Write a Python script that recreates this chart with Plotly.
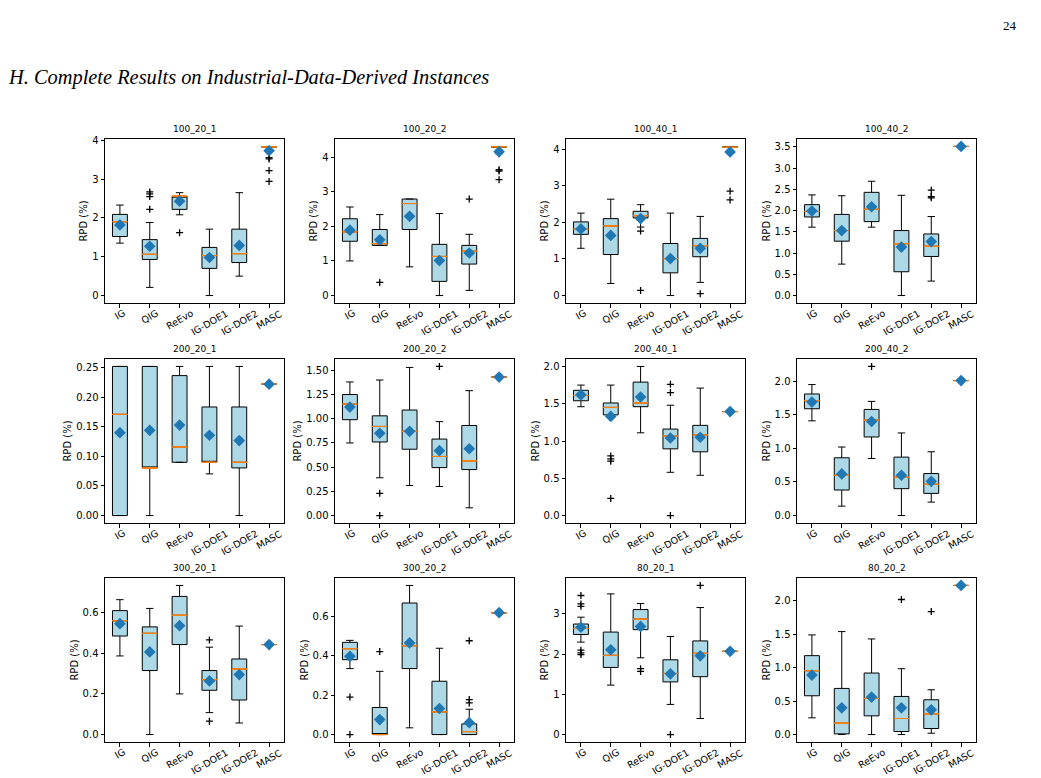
import plotly.graph_objects as go

methods = ["IG", "QIG", "ReEvo", "IG-DOE1", "IG-DOE2", "MASC"]
instances = ["100_20_1", "100_20_2", "100_40_1", "100_40_2",
             "200_20_1", "200_20_2", "200_40_1", "200_40_2",
             "300_20_1", "300_20_2", "80_20_1", "80_20_2"]

lower_whisker = [
    [1.35, 0.21, 2.08, 0.0, 0.50, 3.83],
    [1.00, 1.45, 0.83, 0.0, 0.15, 4.29],
    [1.29, 0.33, 1.87, 0.0, 0.36, 4.05],
    [1.61, 0.74, 1.61, 0.0, 0.34, 3.51],
    [0.0, 0.0, 0.090, 0.0704, 0.0, 0.2224],
    [0.75, 0.39, 0.31, 0.30, 0.08, 1.43],
    [1.46, 1.35, 1.11, 0.58, 0.54, 1.395],
    [1.41, 0.14, 0.85, 0.0, 0.20, 2.01],
    [0.387, 0.0, 0.20, 0.108, 0.057, 0.443],
    [0.334, 0.0, 0.034, 0.0, 0.0, 0.617],
    [2.30, 1.23, 1.91, 0.75, 0.40, 2.07],
    [0.25, 0.0, 0.0, 0.0, 0.02, 2.23],
]
q1 = [
    [1.52, 0.93, 2.22, 0.70, 0.85, 3.83],
    [1.57, 1.45, 1.91, 0.41, 0.91, 4.29],
    [1.67, 1.12, 2.12, 0.62, 1.06, 4.05],
    [1.85, 1.28, 1.74, 0.56, 0.92, 3.51],
    [0.0, 0.0805, 0.090, 0.090, 0.0805, 0.2224],
    [0.99, 0.76, 0.685, 0.495, 0.475, 1.43],
    [1.54, 1.35, 1.46, 0.895, 0.855, 1.395],
    [1.59, 0.38, 1.17, 0.40, 0.33, 2.01],
    [0.485, 0.315, 0.443, 0.218, 0.17, 0.443],
    [0.379, 0.0, 0.334, 0.0, 0.0, 0.617],
    [2.49, 1.67, 2.61, 1.31, 1.44, 2.07],
    [0.58, 0.01, 0.28, 0.045, 0.09, 2.23],
]
median = [
    [1.90, 1.06, 2.56, 1.03, 1.08, 3.83],
    [1.84, 1.50, 2.66, 1.13, 1.28, 4.30],
    [1.81, 1.90, 2.18, 1.01, 1.36, 4.05],
    [1.98, 1.53, 2.03, 1.22, 1.16, 3.51],
    [0.171, 0.0805, 0.116, 0.090, 0.090, 0.2224],
    [1.15, 0.92, 0.87, 0.61, 0.564, 1.43],
    [1.61, 1.45, 1.51, 1.065, 1.08, 1.395],
    [1.71, 0.60, 1.42, 0.57, 0.465, 2.01],
    [0.56, 0.498, 0.587, 0.27, 0.323, 0.443],
    [0.435, 0.0, 0.45, 0.115, 0.015, 0.617],
    [2.64, 1.97, 2.87, 1.52, 2.02, 2.07],
    [0.955, 0.17, 0.54, 0.24, 0.31, 2.23],
]
q3 = [
    [2.09, 1.44, 2.56, 1.24, 1.71, 3.83],
    [2.22, 1.91, 2.79, 1.48, 1.45, 4.30],
    [2.01, 2.10, 2.30, 1.42, 1.56, 4.06],
    [2.14, 1.91, 2.43, 1.53, 1.45, 3.51],
    [0.252, 0.252, 0.2365, 0.1835, 0.1835, 0.2224],
    [1.25, 1.03, 1.09, 0.79, 0.93, 1.43],
    [1.68, 1.51, 1.79, 1.16, 1.21, 1.395],
    [1.81, 0.86, 1.58, 0.87, 0.625, 2.01],
    [0.61, 0.53, 0.68, 0.315, 0.372, 0.443],
    [0.467, 0.137, 0.666, 0.27, 0.054, 0.617],
    [2.75, 2.55, 3.11, 1.86, 2.33, 2.07],
    [1.18, 0.69, 0.92, 0.57, 0.52, 2.23],
]
upper_whisker = [
    [2.33, 1.88, 2.65, 1.71, 2.65, 3.84],
    [2.56, 2.34, 2.79, 2.37, 1.77, 4.31],
    [2.25, 2.63, 2.48, 2.25, 2.16, 4.07],
    [2.37, 2.35, 2.69, 2.36, 1.86, 3.51],
    [0.252, 0.252, 0.252, 0.252, 0.252, 0.2224],
    [1.38, 1.40, 1.53, 0.97, 1.29, 1.43],
    [1.75, 1.75, 2.0, 1.48, 1.71, 1.395],
    [1.95, 1.02, 1.70, 1.23, 0.95, 2.01],
    [0.664, 0.621, 0.734, 0.43, 0.534, 0.443],
    [0.477, 0.32, 0.755, 0.437, 0.128, 0.617],
    [2.92, 3.50, 3.26, 2.44, 3.16, 2.07],
    [1.49, 1.54, 1.43, 0.985, 0.67, 2.23],
]
means = [
    [1.82, 1.27, 2.43, 0.98, 1.29, 3.73],
    [1.89, 1.61, 2.29, 1.01, 1.23, 4.16],
    [1.82, 1.64, 2.10, 1.01, 1.29, 3.92],
    [1.99, 1.53, 2.09, 1.14, 1.27, 3.51],
    [0.140, 0.144, 0.153, 0.1357, 0.1267, 0.222],
    [1.12, 0.85, 0.87, 0.67, 0.69, 1.43],
    [1.62, 1.33, 1.59, 1.04, 1.05, 1.395],
    [1.69, 0.62, 1.40, 0.60, 0.51, 2.01],
    [0.546, 0.407, 0.536, 0.264, 0.295, 0.443],
    [0.396, 0.076, 0.464, 0.132, 0.06, 0.617],
    [2.67, 2.11, 2.69, 1.51, 1.96, 2.07],
    [0.89, 0.40, 0.56, 0.40, 0.37, 2.23],
]
outliers = [
    [[], [2.22, 2.55, 2.62, 2.67], [1.62], [], [], [3.55, 3.52, 3.22, 2.94]],
    [[], [0.38], [], [], [2.79], [4.10, 3.64, 3.60, 3.35]],
    [[], [], [1.76, 0.14], [], [0.05], [2.85, 2.61]],
    [[], [], [], [], [2.30, 2.33, 2.48], []],
    [[], [], [], [], [], []],
    [[], [0.23, 0.0], [], [1.54], [], []],
    [[], [0.80, 0.76, 0.73, 0.23], [], [1.65, 1.76, 0.0], [], []],
    [[], [], [2.22], [], [], []],
    [[], [], [], [0.466, 0.066], [], []],
    [[0.19, 0.0], [0.42], [], [], [0.16, 0.177, 0.475], []],
    [[3.46, 3.25, 3.19, 2.10, 2.03, 1.99], [], [1.64, 1.57], [0.0], [3.71], []],
    [[], [], [], [2.02], [1.84], []],
]
tick_step = [1, 1, 1, 0.5, 0.05, 0.25, 0.5, 0.5, 0.2, 0.2, 1, 0.5]
tick_format = [".0f", ".0f", ".0f", ".1f", ".2f", ".2f", ".1f", ".1f", ".1f", ".1f", ".0f", ".1f"]

W, H = 1041, 778
col_left = [105, 335, 566, 797]
row_top = [139, 359, 578]
ax_w, ax_h = 179, 164
FONT = "DejaVu Sans"
TICK_SIZE = 10
XLAB_SIZE = 9.5

fig = go.Figure()
annotations = []
for k, name in enumerate(instances):
    n = k + 1
    xa, ya = ("x" if n == 1 else f"x{n}"), ("y" if n == 1 else f"y{n}")
    r, c = divmod(k, 4)
    L, T = col_left[c], row_top[r]
    fig.add_trace(go.Box(
        x=methods, q1=q1[k], median=median[k], q3=q3[k],
        lowerfence=lower_whisker[k], upperfence=upper_whisker[k],
        width=0.5, whiskerwidth=0.5, boxpoints=False,
        fillcolor="lightblue", line=dict(color="black", width=1),
        xaxis=xa, yaxis=ya, showlegend=False, hoverinfo="skip"))
    fig.add_trace(go.Box(
        x=methods, q1=median[k], median=median[k], q3=median[k],
        lowerfence=median[k], upperfence=median[k],
        width=0.5, boxpoints=False, fillcolor="rgba(0,0,0,0)",
        line=dict(color="#ff7f0e", width=1),
        xaxis=xa, yaxis=ya, showlegend=False, hoverinfo="skip"))
    ox, oy = [], []
    for m, vals in zip(methods, outliers[k]):
        for v in vals:
            ox.append(m)
            oy.append(v)
    fig.add_trace(go.Scatter(
        x=ox, y=oy, mode="markers",
        marker=dict(symbol="cross-thin", size=5, line=dict(color="black", width=1.3)),
        xaxis=xa, yaxis=ya, showlegend=False, hoverinfo="skip"))
    fig.add_trace(go.Scatter(
        x=methods, y=means[k], mode="markers",
        marker=dict(symbol="diamond", size=9, color="#1f77b4"),
        xaxis=xa, yaxis=ya, showlegend=False, hoverinfo="skip"))

    vals_all = lower_whisker[k] + upper_whisker[k] + [v for o in outliers[k] for v in o]
    lo, hi = min(vals_all), max(vals_all)
    pad = 0.05 * (hi - lo)
    axis_common = dict(showline=True, mirror=True, linecolor="black", linewidth=1,
                       ticks="outside", ticklen=3.5, tickwidth=1, tickcolor="black",
                       showgrid=False, zeroline=False, automargin=False,
                       tickfont=dict(family=FONT, size=TICK_SIZE, color="black"))
    fig.layout[f"xaxis{n}"] = dict(
        domain=[L / W, (L + ax_w) / W], anchor=ya, type="category",
        range=[-0.5, 5.5], showticklabels=False, **axis_common)
    fig.layout[f"yaxis{n}"] = dict(
        domain=[1 - (T + ax_h) / H, 1 - T / H], anchor=xa,
        range=[lo - pad, hi + pad], tick0=0, dtick=tick_step[k],
        tickformat=tick_format[k],
        title=dict(text="RPD (%)", font=dict(family=FONT, size=TICK_SIZE, color="black"), standoff=2),
        **axis_common)
    annotations.append(dict(
        text=name, xref="paper", yref="paper", x=(L + ax_w / 2) / W, y=1 - (T - 3) / H,
        xanchor="center", yanchor="bottom", showarrow=False,
        font=dict(family=FONT, size=9, color="black")))
    for i, m in enumerate(methods):
        annotations.append(dict(
            text=m, xref=xa, yref="paper", x=i, y=1 - (T + ax_h + 3) / H,
            xanchor="center", yanchor="top", textangle=-30, showarrow=False,
            borderpad=0,
            font=dict(family=FONT, size=XLAB_SIZE, color="black")))

annotations.append(dict(
    text="24", xref="paper", yref="paper", x=1019 / W, y=1 - 25 / H,
    xanchor="right", yanchor="middle", showarrow=False,
    font=dict(family="Liberation Serif", size=13, color="black")))
annotations.append(dict(
    text="<i>H. Complete Results on Industrial-Data-Derived Instances</i>",
    xref="paper", yref="paper", x=6 / W, y=1 - 77 / H,
    xanchor="left", yanchor="middle", showarrow=False,
    font=dict(family="Liberation Serif", size=20.4, color="black")))

fig.update_layout(
    width=W, height=H, margin=dict(l=0, r=0, t=0, b=0),
    paper_bgcolor="white", plot_bgcolor="white",
    boxmode="overlay", showlegend=False, annotations=annotations)

fig.write_html("out.html")
